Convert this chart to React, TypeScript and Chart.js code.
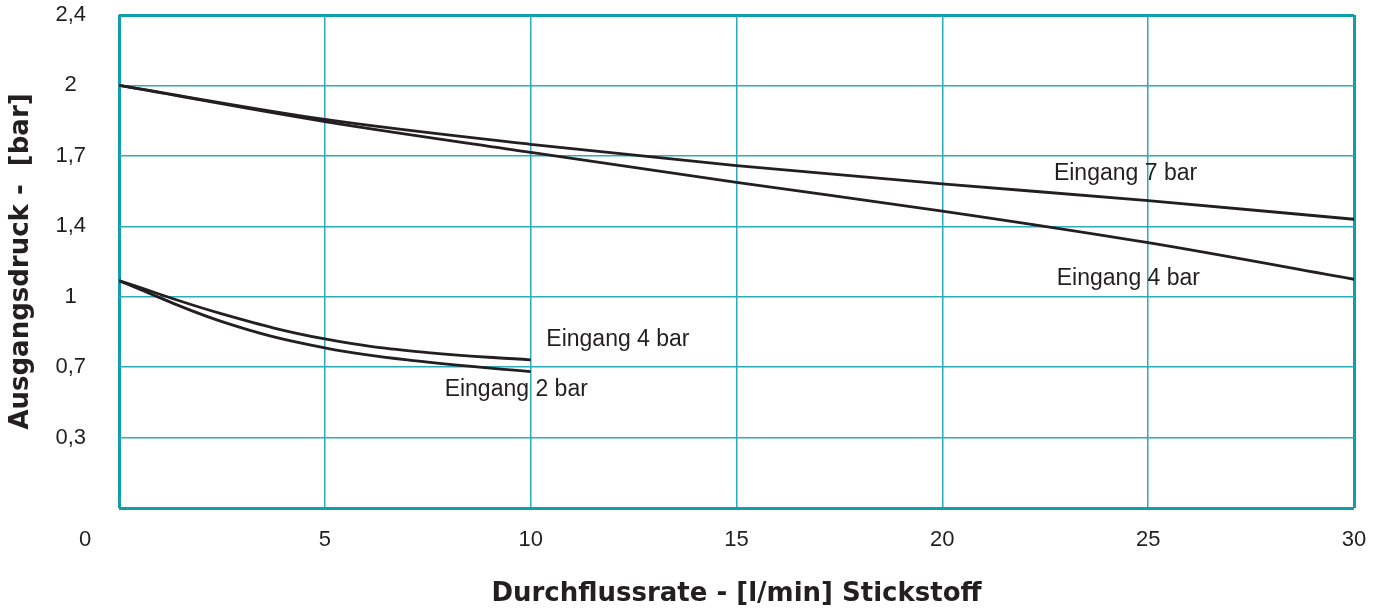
import React, { useEffect, useRef } from 'react';
import { Chart, registerables } from 'chart.js';

Chart.register(...registerables);

// Flow rate [l/min] and outlet pressure [bar]
const flowUpper = [0, 5, 10, 15, 20, 25, 30];
const outlet7bar = [2.0, 1.855, 1.749, 1.658, 1.581, 1.509, 1.43];
const outlet4bar = [2.0, 1.846, 1.715, 1.587, 1.465, 1.307, 1.099];

const flowLower = [0, 2.5, 5, 7.5, 10];
const outlet4barLow = [1.091, 0.927, 0.82, 0.762, 0.731];
const outlet2barLow = [1.091, 0.894, 0.782, 0.721, 0.675];

// The printed y axis is equally spaced over these (uneven) values
const yTickValues = [0, 0.3, 0.7, 1, 1.4, 1.7, 2, 2.4];
const yTickLabels = ['0', '0,3', '0,7', '1', '1,4', '1,7', '2', '2,4'];

const curveLabels = ['Eingang 7 bar', 'Eingang 4 bar', 'Eingang 4 bar', 'Eingang 2 bar'];
const curveLabelFlow = [22.71, 22.78, 10.38, 7.91];
const curveLabelPressure = [1.624, 1.105, 0.815, 0.57];

const xTitle = 'Durchflussrate - [l/min] Stickstoff';
const yTitle = 'Ausgangsdruck -  [bar]';

const TEXT = '#231f20';
const LINE = '#231f20';
const GRID = '#2aacbb';
const FRAME = '#0f9eac';
const SANS = '"Liberation Sans", Arial, Helvetica, sans-serif';

function toAxis(v: number): number {
  for (let i = 0; i < yTickValues.length - 1; i++) {
    const a = yTickValues[i];
    const b = yTickValues[i + 1];
    if (v <= b || i === yTickValues.length - 2) {
      return i + (v - a) / (b - a);
    }
  }
  return 0;
}

function series(xs: number[], ys: number[]) {
  return xs.map((x, i) => ({ x, y: toAxis(ys[i]) }));
}

const labelPlugin = {
  id: 'curveLabels',
  afterDatasetsDraw(chart: any) {
    const { ctx, scales } = chart;
    const x = scales.x;
    const y = scales.y;
    ctx.save();
    ctx.fillStyle = TEXT;
    ctx.font = `23px ${SANS}`;
    ctx.textAlign = 'left';
    ctx.textBaseline = 'middle';
    curveLabels.forEach((t, i) => {
      ctx.fillText(t, x.getPixelForValue(curveLabelFlow[i]), y.getPixelForValue(toAxis(curveLabelPressure[i])));
    });
    // origin label, printed below-left of the plot corner
    ctx.font = `22px ${SANS}`;
    ctx.textAlign = 'center';
    ctx.fillText(yTickLabels[0], x.getPixelForValue(0) - 34, x.top + 19 + 13.2);
    ctx.restore();
  },
};

export default function App() {
  const canvasRef = useRef<HTMLCanvasElement | null>(null);

  useEffect(() => {
    if (!canvasRef.current) return;
    const chart = new Chart(canvasRef.current, {
      type: 'line',
      data: {
        datasets: [
          { label: 'Eingang 7 bar', data: series(flowUpper, outlet7bar), cubicInterpolationMode: 'monotone' },
          { label: 'Eingang 4 bar', data: series(flowUpper, outlet4bar), cubicInterpolationMode: 'monotone' },
          { label: 'Eingang 4 bar (unten)', data: series(flowLower, outlet4barLow), tension: 0.4 },
          { label: 'Eingang 2 bar', data: series(flowLower, outlet2barLow), tension: 0.4 },
        ],
      } as any,
      options: {
        animation: false,
        responsive: false,
        devicePixelRatio: 1,
        layout: { padding: { left: 0, right: 30, top: 15, bottom: 0 } },
        plugins: { legend: { display: false }, tooltip: { enabled: false } },
        elements: {
          point: { radius: 0 },
          line: {
            borderWidth: 2.8,
            borderColor: LINE,
            backgroundColor: LINE,
            fill: false,
          },
        },
        scales: {
          x: {
            type: 'linear',
            min: 0,
            max: 30,
            ticks: {
              stepSize: 5,
              padding: 19,
              color: TEXT,
              font: { family: SANS, size: 22 },
              callback: (v: any) => (v === 0 ? '' : String(v)),
            },
            grid: {
              drawTicks: false,
              color: (c: any) => (c.tick && (c.tick.value === 0 || c.tick.value === 30) ? FRAME : GRID),
              lineWidth: (c: any) => (c.tick && (c.tick.value === 0 || c.tick.value === 30) ? 3 : 1.5),
            },
            border: { display: false },
            title: {
              display: true,
              text: xTitle,
              color: TEXT,
              font: { family: '"DejaVu Sans", sans-serif', size: 26, weight: 'bold' },
              padding: { top: 0, bottom: 4 },
            },
            afterFit: (s: any) => {
              s.height = 106;
              s.paddingLeft = 0;
              s.paddingRight = 0;
            },
          },
          y: {
            type: 'linear',
            min: 0,
            max: 7,
            ticks: {
              stepSize: 1,
              padding: 33,
              crossAlign: 'center',
              color: TEXT,
              font: { family: SANS, size: 22 },
              callback: (v: any) => (v === 0 ? '' : yTickLabels[v as number]),
            },
            grid: {
              drawTicks: false,
              color: (c: any) => (c.tick && (c.tick.value === 0 || c.tick.value === 7) ? FRAME : GRID),
              lineWidth: (c: any) => (c.tick && (c.tick.value === 0 || c.tick.value === 7) ? 3 : 1.5),
            },
            border: { display: false },
            title: {
              display: true,
              text: yTitle,
              color: TEXT,
              font: { family: '"DejaVu Sans", sans-serif', size: 26, weight: 'bold' },
              padding: { top: 6, bottom: 0 },
            },
            afterFit: (s: any) => {
              s.width = 119;
              s.paddingTop = 0;
              s.paddingBottom = 0;
            },
          },
        },
      } as any,
      plugins: [labelPlugin],
    });
    return () => chart.destroy();
  }, []);

  return (
    <div style={{ position: 'absolute', left: 0, top: 0, width: 1384, height: 614, background: '#fff' }}>
      <canvas ref={canvasRef} width={1384} height={614} style={{ display: 'block' }} />
    </div>
  );
}
